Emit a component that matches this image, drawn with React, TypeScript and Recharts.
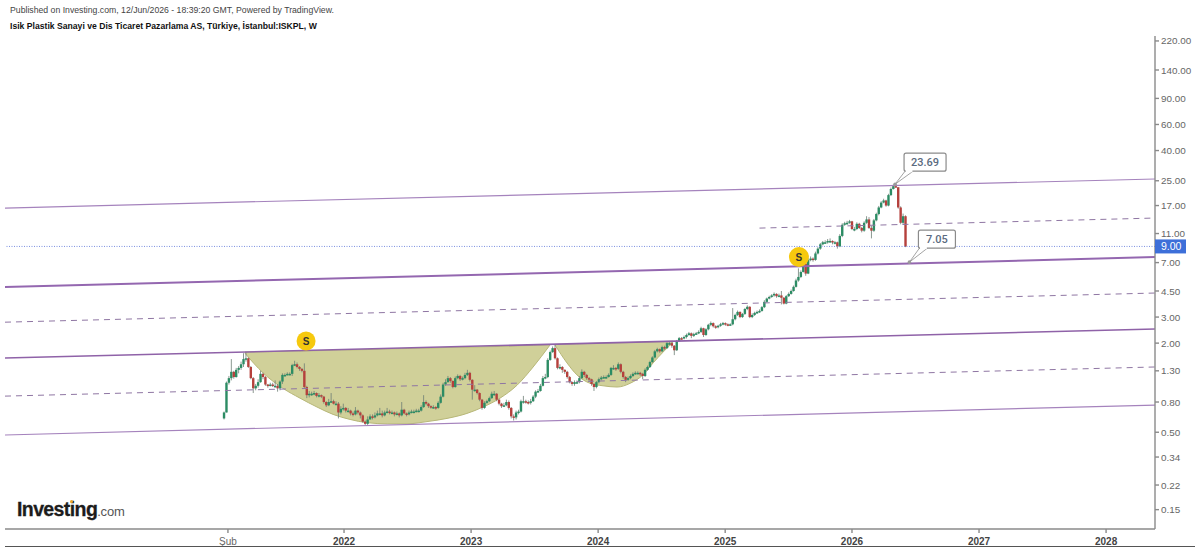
import {
  Area,
  Bar,
  ComposedChart,
  ReferenceDot,
  ReferenceLine,
  XAxis,
  YAxis,
} from "recharts";

const FONT = "'Liberation Sans', Arial, sans-serif";
const UP = "#2c8c64";
const DOWN = "#b5403c";
const BODY_WIDTH = 2.4;

// weekly candles, week 0 is early Feb 2021
const firstOpen = 0.62;
const closes = [
  0.68, 1.08, 1.16, 1.28, 1.18, 1.32, 1.36, 1.44, 1.56, 1.58,
  1.38, 1.16, 0.99, 1.03, 1.09, 1.24, 1.18, 1.05, 1.03, 1.05,
  1.03, 1.03, 0.99, 1.1, 1.22, 1.22, 1.24, 1.24, 1.42, 1.44,
  1.38, 1.34, 1.3, 1.01, 0.89, 0.91, 0.91, 0.92, 0.88, 0.89,
  0.87, 0.8, 0.76, 0.8, 0.81, 0.78, 0.78, 0.68, 0.72, 0.73,
  0.7, 0.7, 0.67, 0.66, 0.7, 0.68, 0.65, 0.59, 0.57, 0.61,
  0.64, 0.63, 0.65, 0.67, 0.67, 0.65, 0.68, 0.69, 0.68, 0.68,
  0.66, 0.67, 0.65, 0.71, 0.67, 0.66, 0.68, 0.69, 0.69, 0.7,
  0.7, 0.74, 0.8, 0.78, 0.75, 0.74, 0.74, 0.73, 0.79, 0.87,
  1.05, 1.09, 1.16, 1.11, 1.01, 1.16, 1.2, 1.14, 1.16, 1.22,
  1.26, 1.13, 0.97, 0.97, 0.92, 0.83, 0.73, 0.79, 0.81, 0.85,
  0.91, 0.91, 0.83, 0.78, 0.75, 0.76, 0.8, 0.73, 0.64, 0.63,
  0.68, 0.69, 0.81, 0.81, 0.8, 0.79, 0.81, 0.87, 0.94, 0.95,
  1.03, 1.16, 1.18, 1.54, 1.74, 1.85, 1.58, 1.36, 1.38, 1.32,
  1.28, 1.18, 1.09, 1.06, 1.09, 1.09, 1.16, 1.28, 1.22, 1.16,
  1.14, 1.06, 1.01, 1.09, 1.14, 1.17, 1.18, 1.18, 1.22, 1.36,
  1.36, 1.34, 1.44, 1.28, 1.18, 1.13, 1.16, 1.2, 1.24, 1.26,
  1.26, 1.24, 1.2, 1.32, 1.38, 1.49, 1.6, 1.76, 1.82, 1.76,
  1.88, 1.85, 2.0, 2.0, 1.92, 1.79, 2.06, 2.16, 2.15, 2.2,
  2.27, 2.33, 2.24, 2.3, 2.33, 2.38, 2.52, 2.27, 2.48, 2.66,
  2.73, 2.6, 2.56, 2.62, 2.68, 2.73, 2.68, 2.66, 2.68, 2.9,
  3.1, 3.25, 3.0, 3.15, 3.4, 3.52, 3.0, 3.1, 3.2, 3.25,
  3.3, 3.5, 3.8, 4.0, 4.1, 4.2, 4.3, 4.15, 4.2, 4.05,
  3.7, 4.15, 4.3, 4.5, 4.8, 5.3, 5.6, 6.05, 6.9, 5.9,
  7.3, 7.45, 7.3, 8.07, 8.7, 9.3, 9.6, 9.6, 9.8, 9.8,
  9.6, 9.6, 9.0, 10.6, 12.6, 12.9, 13, 13.3, 11.8, 11.8,
  12.8, 12, 11.5, 13, 13.7, 12, 11.5, 13.5, 14.9, 16.5,
  17.8, 18.4, 17, 20, 22, 23, 22.6, 16.5, 13, 14.4, 9.0,
];
const highs = [
  0.69, 1.1, 1.2, 1.56, 1.3, 1.36, 1.4, 1.5, 1.71, 1.74,
  1.6, 1.4, 1.18, 1.06, 1.14, 1.3, 1.26, 1.2, 1.06, 1.08,
  1.08, 1.12, 1.06, 1.12, 1.25, 1.25, 1.27, 1.27, 1.45, 1.52,
  1.48, 1.4, 1.36, 1.46, 1.03, 0.95, 0.94, 0.95, 0.93, 0.92,
  0.9, 0.88, 0.81, 0.84, 0.92, 0.83, 0.81, 0.8, 0.75, 0.78,
  0.74, 0.73, 0.71, 0.69, 0.74, 0.71, 0.69, 0.66, 0.6, 0.64,
  0.66, 0.66, 0.68, 0.7, 0.73, 0.7, 0.7, 0.73, 0.71, 0.7,
  0.69, 0.69, 0.68, 0.8, 0.72, 0.68, 0.7, 0.71, 0.71, 0.72,
  0.72, 0.76, 0.89, 0.82, 0.79, 0.76, 0.76, 0.75, 0.81, 0.9,
  1.08, 1.14, 1.2, 1.18, 1.12, 1.19, 1.23, 1.22, 1.19, 1.26,
  1.32, 1.28, 1.14, 1.04, 0.98, 0.93, 0.84, 0.81, 0.83, 0.87,
  0.94, 0.95, 0.92, 0.84, 0.79, 0.79, 0.83, 0.82, 0.74, 0.66,
  0.7, 0.71, 0.83, 0.88, 0.83, 0.82, 0.84, 0.89, 0.96, 0.98,
  1.06, 1.2, 1.24, 1.58, 1.78, 1.9, 1.96, 1.6, 1.44, 1.4,
  1.33, 1.3, 1.2, 1.1, 1.12, 1.12, 1.2, 1.33, 1.3, 1.24,
  1.18, 1.15, 1.07, 1.11, 1.17, 1.2, 1.21, 1.21, 1.25, 1.38,
  1.42, 1.38, 1.48, 1.46, 1.3, 1.2, 1.19, 1.23, 1.27, 1.29,
  1.29, 1.28, 1.26, 1.35, 1.41, 1.52, 1.63, 1.8, 1.86, 1.84,
  1.92, 1.92, 2.05, 2.06, 2.03, 1.94, 2.1, 2.2, 2.2, 2.25,
  2.32, 2.38, 2.36, 2.35, 2.38, 2.44, 2.58, 2.54, 2.52, 2.7,
  2.8, 2.76, 2.64, 2.66, 2.74, 2.78, 2.76, 2.72, 2.72, 3.45,
  3.16, 3.32, 3.28, 3.2, 3.46, 3.6, 3.55, 3.18, 3.26, 3.32,
  3.38, 3.56, 3.9, 4.06, 4.18, 4.28, 4.4, 4.35, 4.32, 4.5,
  4.1, 4.22, 4.4, 4.6, 4.9, 5.45, 6.4, 6.2, 7.1, 6.95,
  7.5, 7.7, 7.6, 8.3, 8.9, 9.5, 9.8, 9.9, 10.1, 10.2,
  9.9, 9.8, 9.7, 10.9, 12.9, 13.2, 13.4, 13.6, 13.4, 12.2,
  13.1, 13.0, 12.2, 13.3, 14.4, 14.2, 12.4, 13.8, 15.2, 16.9,
  18.2, 18.9, 18.6, 20.4, 22.5, 23.5, 23.69, 22.4, 16.8, 15.0, 14.6,
];
const lows = [
  0.61, 0.68, 1.05, 1.12, 1.15, 1.17, 1.25, 1.32, 1.38, 1.5,
  1.36, 1.14, 0.92, 0.96, 1.0, 1.08, 1.14, 1.03, 1.0, 1.02,
  1.01, 1.0, 0.94, 0.96, 1.06, 1.19, 1.21, 1.21, 1.2, 1.4,
  1.35, 1.3, 1.27, 0.99, 0.85, 0.86, 0.88, 0.89, 0.86, 0.86,
  0.85, 0.78, 0.74, 0.75, 0.79, 0.77, 0.76, 0.62, 0.66, 0.7,
  0.68, 0.68, 0.65, 0.64, 0.65, 0.66, 0.62, 0.58, 0.56, 0.56,
  0.62, 0.61, 0.62, 0.64, 0.65, 0.63, 0.64, 0.67, 0.66, 0.66,
  0.64, 0.65, 0.63, 0.64, 0.66, 0.64, 0.65, 0.67, 0.67, 0.68,
  0.68, 0.69, 0.73, 0.76, 0.73, 0.72, 0.72, 0.71, 0.72, 0.78,
  0.86, 1.03, 1.08, 1.08, 0.99, 1.0, 1.14, 1.11, 1.12, 1.14,
  1.2, 1.1, 0.83, 0.94, 0.9, 0.81, 0.71, 0.72, 0.78, 0.8,
  0.84, 0.88, 0.81, 0.76, 0.73, 0.74, 0.75, 0.71, 0.62, 0.6,
  0.61, 0.66, 0.68, 0.78, 0.78, 0.77, 0.77, 0.8, 0.85, 0.92,
  0.94, 1.02, 1.14, 1.16, 1.52, 1.72, 1.55, 1.33, 1.33, 1.26,
  1.24, 1.15, 1.07, 1.03, 1.03, 1.06, 1.07, 1.14, 1.18, 1.13,
  1.1, 1.03, 0.95, 0.99, 1.07, 1.12, 1.15, 1.15, 1.17, 1.2,
  1.32, 1.3, 1.32, 1.25, 1.15, 1.09, 1.11, 1.14, 1.18, 1.22,
  1.23, 1.2, 1.14, 1.18, 1.3, 1.36, 1.47, 1.58, 1.73, 1.72,
  1.74, 1.8, 1.83, 1.94, 1.86, 1.66, 1.77, 2.04, 2.1, 2.12,
  2.15, 2.24, 2.16, 2.2, 2.27, 2.3, 2.34, 2.2, 2.24, 2.44,
  2.6, 2.55, 2.5, 2.52, 2.58, 2.64, 2.62, 2.6, 2.62, 2.64,
  2.85, 3.05, 2.95, 2.96, 3.1, 3.34, 2.95, 2.95, 3.05, 3.15,
  3.2, 3.26, 3.45, 3.75, 3.95, 4.05, 4.12, 4.05, 4.08, 3.65,
  3.65, 3.66, 4.1, 4.25, 4.45, 4.75, 5.2, 5.5, 6.0, 5.7,
  5.85, 7.15, 7.1, 7.2, 7.95, 8.55, 9.15, 9.35, 9.4, 9.5,
  9.3, 9.3, 8.7, 8.9, 10.4, 12.4, 12.6, 12.8, 11.6, 11.4,
  11.6, 11.8, 11.2, 11.3, 12.8, 11.8, 10.2, 11.3, 13.3, 14.6,
  16.3, 17.6, 16.7, 16.8, 19.7, 21.8, 22.4, 16.2, 12.7, 12.7, 8.9,
];

// the two cup shapes drawn on the chart
const cupOneWeeks = [8.6, 16, 24.2, 31.2, 38.2, 44.8, 51.8, 58.8, 67, 75.2, 83.4, 91.6, 99.8, 106.4, 113.4, 120.4, 127, 133.9];
const cupOneLower = [1.71, 1.26, 0.99, 0.85, 0.74, 0.66, 0.61, 0.58, 0.57, 0.57, 0.59, 0.62, 0.67, 0.74, 0.85, 1.04, 1.38, 1.94];
const cupOneUpper = [1.74, 1.75, 1.76, 1.77, 1.78, 1.79, 1.8, 1.81, 1.83, 1.84, 1.85, 1.87, 1.88, 1.89, 1.9, 1.92, 1.93, 1.95];
const cupTwoWeeks = [136, 140.9, 145, 150.4, 155.7, 161.5, 166.8, 172.1, 176.3, 180.4, 184.5];
const cupTwoLower = [1.94, 1.47, 1.22, 1.07, 1.03, 1.01, 1.07, 1.22, 1.47, 1.74, 2.03];
const cupTwoUpper = [1.96, 1.97, 1.98, 1.99, 2.0, 2.01, 2.02, 2.03, 2.04, 2.05, 2.06];

const LEFT_WEEK = -90;
const RIGHT_WEEK = 382.5;

// channel lines: week and value at each end
const channels = [
  { x1: LEFT_WEEK, from: 16.35, to: 25.7, width: 1.2, dash: undefined, color: "#a583bd" },
  { x1: 220, from: 11.97, to: 14.0, width: 1, dash: "6 5", color: "#8f76a3" },
  { x1: LEFT_WEEK, from: 4.78, to: 7.63, width: 2, dash: undefined, color: "#9467b0" },
  { x1: LEFT_WEEK, from: 2.77, to: 4.36, width: 1, dash: "6 5", color: "#8f76a3" },
  { x1: LEFT_WEEK, from: 1.585, to: 2.49, width: 1.6, dash: undefined, color: "#8f62a8" },
  { x1: LEFT_WEEK, from: 0.877, to: 1.38, width: 1, dash: "6 5", color: "#8f76a3" },
  { x1: LEFT_WEEK, from: 0.479, to: 0.763, width: 1.2, dash: undefined, color: "#a583bd" },
];

const priceTicks = [220, 140, 90, 60, 40, 25, 17, 11, 7, 4.5, 3, 2, 1.3, 0.8, 0.5, 0.34, 0.22, 0.15];
const timeTicks = [1.6, 49.3, 101.5, 153.7, 205.9, 258, 310.2, 362.4];
const timeLabels = ["Şub", "2022", "2023", "2024", "2025", "2026", "2027", "2028"];

const candleRows = closes.map((close, i) => {
  const open = i === 0 ? firstOpen : closes[i - 1];
  const high = Math.max(highs[i], open, close);
  const low = Math.min(lows[i], open, close);
  return { week: i, open, close, high, low, range: [low, high] };
});

const bandRows = (weeks: number[], lower: number[], upper: number[]) =>
  weeks.map((week, i) => ({ week, band: [lower[i], upper[i]] }));

// the bar covers high to low, the axis is logarithmic so the body is placed in log space
const Candle = (props: any) => {
  const { x, y, width, height, payload } = props;
  const { open, close, high, low } = payload;
  const span = Math.log(high) - Math.log(low) || 1;
  const pos = (v: number) => y + (height * (Math.log(high) - Math.log(v))) / span;
  const top = pos(Math.max(open, close));
  const bottom = pos(Math.min(open, close));
  const color = close >= open ? UP : DOWN;
  const mid = x + width / 2;
  return (
    <g>
      <line x1={mid} x2={mid} y1={y} y2={y + height} stroke="#6d7d75" strokeWidth={0.8} />
      <rect x={mid - BODY_WIDTH / 2} y={top} width={BODY_WIDTH} height={Math.max(bottom - top, 1.5)} fill={color} />
    </g>
  );
};

const Callout = (props: any) => {
  const { cx, cy, text, boxX, boxY, boxW, tailA, tailB } = props;
  return (
    <g>
      <path
        d={`M${cx} ${cy}L${cx + tailA} ${cy + boxY + 18}L${cx + tailB} ${cy + boxY + 18}Z`}
        fill="#fff"
        stroke="#8b8b8b"
        strokeWidth={0.8}
      />
      <circle cx={cx} cy={cy} r={1.8} fill="#9a9a9a" />
      <rect x={cx + boxX} y={cy + boxY} width={boxW} height={18} rx={2} fill="#fff" stroke="#8b8b8b" strokeWidth={1.2} />
      <rect x={cx + tailA + 0.6} y={cy + boxY + 16} width={tailB - tailA - 1.2} height={3} fill="#fff" />
      <text
        x={cx + boxX + boxW / 2}
        y={cy + boxY + 13}
        textAnchor="middle"
        fontFamily="Roboto, sans-serif"
        fontSize={11}
        fontWeight={500}
        fill="#5b6b7f"
      >
        {text}
      </text>
    </g>
  );
};

const Signal = (props: any) => (
  <g>
    <circle cx={props.cx} cy={props.cy} r={props.size} fill="#f6c90e" />
    <text x={props.cx} y={props.cy + 3.5} textAnchor="middle" fontFamily={FONT} fontSize={10} fontWeight={700} fill="#333">
      S
    </text>
  </g>
);

const PriceFlag = (props: any) => (
  <g>
    <rect x={props.cx} y={props.cy - 7} width={31} height={14} fill="#3d6fd9" />
    <text x={props.cx + 6} y={props.cy + 4} fontFamily={FONT} fontSize={10.5} fill="#fff">
      9.00
    </text>
  </g>
);

const TimeTick = (props: any) => {
  const { x, y, index } = props;
  const label = timeLabels[index];
  return (
    <text
      x={x}
      y={y + 10}
      textAnchor="middle"
      fontFamily={FONT}
      fontSize={10}
      fontWeight={label === "Şub" ? 400 : 700}
      fill={label === "Şub" ? "#666" : "#444"}
    >
      {label}
    </text>
  );
};

export default function App() {
  return (
    <div style={{ position: "absolute", left: 0, top: 0, width: 1200, height: 550, background: "#fff", overflow: "hidden" }}>
      <div style={{ position: "absolute", left: 10, top: 5, fontFamily: FONT, fontSize: 8.7, color: "#444", whiteSpace: "nowrap" }}>
        Published on Investing.com, 12/Jun/2026 - 18:39:20 GMT, Powered by TradingView.
      </div>
      <div style={{ position: "absolute", left: 10, top: 21, fontFamily: FONT, fontSize: 8.65, fontWeight: 700, color: "#111", whiteSpace: "nowrap" }}>
        Isik Plastik Sanayi ve Dis Ticaret Pazarlama AS, Türkiye, İstanbul:ISKPL, W
      </div>

      <ComposedChart width={1200} height={550} data={candleRows} margin={{ top: 36, right: 0, bottom: 0, left: 5 }}>
        <XAxis
          dataKey="week"
          type="number"
          domain={[LEFT_WEEK, RIGHT_WEEK]}
          allowDataOverflow
          ticks={timeTicks}
          tick={<TimeTick />}
          tickSize={4}
          height={21}
          stroke="#8a8a8a"
          strokeWidth={1.4}
          interval={0}
        />
        <YAxis
          orientation="right"
          scale="log"
          type="number"
          domain={[0.111, 237.6]}
          allowDataOverflow
          ticks={priceTicks}
          interval={0}
          tickFormatter={(v: number) => v.toFixed(2)}
          tick={{ fontFamily: FONT, fontSize: 9.9, fill: "#666" }}
          tickSize={4}
          width={45}
          stroke="#8a8a8a"
          strokeWidth={1.4}
        />

        {channels.map((c) => (
          <ReferenceLine
            key={c.from}
            segment={[
              { x: c.x1, y: c.from },
              { x: RIGHT_WEEK, y: c.to },
            ]}
            stroke={c.color}
            strokeWidth={c.width}
            strokeDasharray={c.dash}
          />
        ))}
        <ReferenceLine y={9} stroke="#7b8fe0" strokeWidth={1} strokeDasharray="1 1.5" />

        <Area
          data={bandRows(cupOneWeeks, cupOneLower, cupOneUpper)}
          dataKey="band"
          type="monotone"
          fill="#cbcb8e"
          fillOpacity={0.9}
          stroke="#b7b778"
          strokeWidth={1}
          isAnimationActive={false}
          dot={false}
          activeDot={false}
        />
        <Area
          data={bandRows(cupTwoWeeks, cupTwoLower, cupTwoUpper)}
          dataKey="band"
          type="monotone"
          fill="#cbcb8e"
          fillOpacity={0.9}
          stroke="#b7b778"
          strokeWidth={1}
          isAnimationActive={false}
          dot={false}
          activeDot={false}
        />

        <Bar dataKey="range" barSize={2} shape={<Candle />} isAnimationActive={false} />

        <ReferenceDot x={33.7} y={2.065} ifOverflow="visible" shape={<Signal size={9.5} />} />
        <ReferenceDot x={236.2} y={7.63} ifOverflow="visible" shape={<Signal size={10} />} />
        <ReferenceDot x={RIGHT_WEEK} y={9} ifOverflow="visible" shape={<PriceFlag />} />
        <ReferenceDot
          x={275.7}
          y={23.69}
          ifOverflow="visible"
          shape={<Callout text="23.69" boxX={9} boxY={-31} boxW={42} tailA={10} tailB={18} />}
        />
        <ReferenceDot
          x={281.6}
          y={7.05}
          ifOverflow="visible"
          shape={<Callout text="7.05" boxX={9} boxY={-32} boxW={37} tailA={10} tailB={18} />}
        />
      </ComposedChart>

      <div style={{ position: "absolute", left: 5, top: 546, width: 1190, height: 1, background: "#555" }} />
      <div style={{ position: "absolute", left: 17, top: 498, fontFamily: FONT, fontSize: 19.5, fontWeight: 700, color: "#1c1c1c", letterSpacing: -0.6, whiteSpace: "nowrap", WebkitTextStroke: "0.3px #1c1c1c" }}>
        Investing
        <span style={{ fontSize: 13, fontWeight: 400, color: "#555", letterSpacing: -0.2, WebkitTextStroke: "0" }}>.com</span>
      </div>
      <div style={{ position: "absolute", left: 70, top: 500, width: 3, height: 3, borderRadius: 2, background: "#f0a92b" }} />
    </div>
  );
}
